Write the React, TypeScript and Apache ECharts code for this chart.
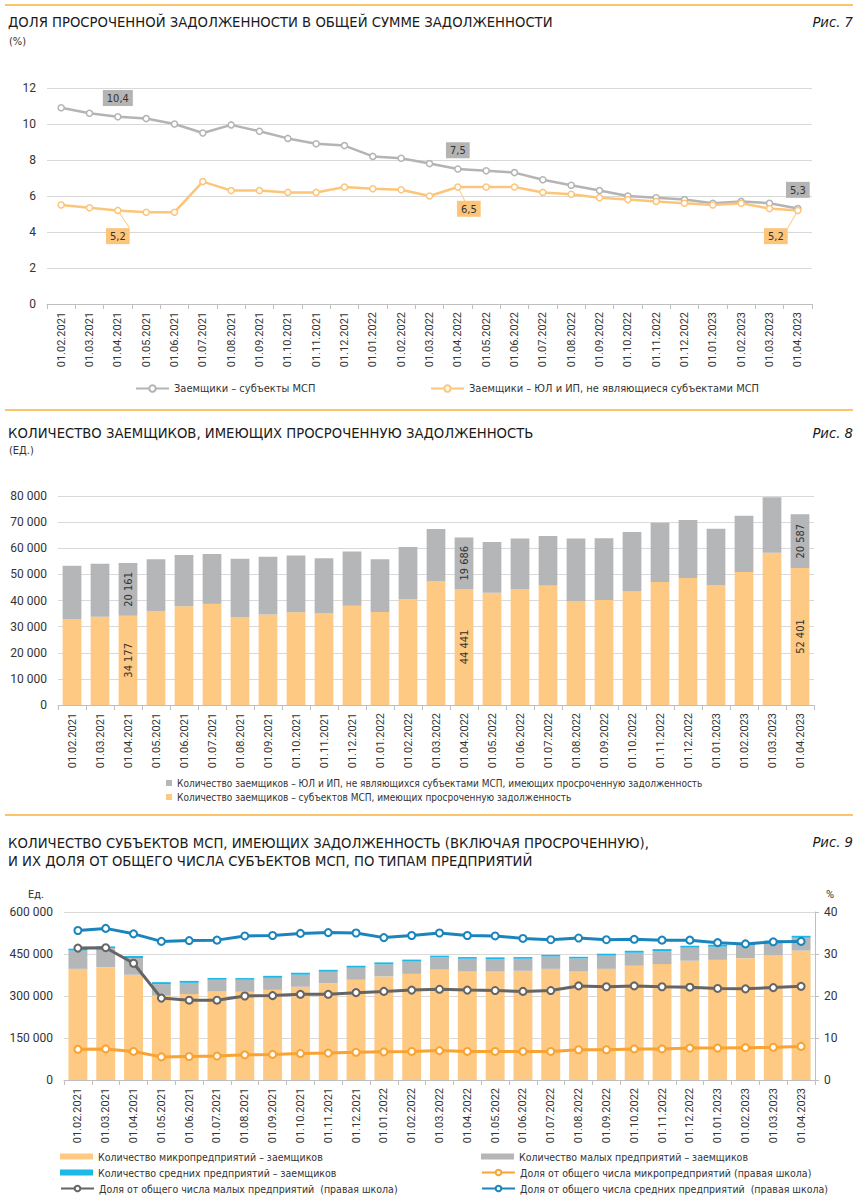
import React, { useEffect, useRef } from "react";
import * as echarts from "echarts";

const dates = [
  "01.02.2021", "01.03.2021", "01.04.2021", "01.05.2021", "01.06.2021", "01.07.2021", "01.08.2021",
  "01.09.2021", "01.10.2021", "01.11.2021", "01.12.2021", "01.01.2022", "01.02.2022", "01.03.2022",
  "01.04.2022", "01.05.2022", "01.06.2022", "01.07.2022", "01.08.2022", "01.09.2022", "01.10.2022",
  "01.11.2022", "01.12.2022", "01.01.2023", "01.02.2023", "01.03.2023", "01.04.2023",
];

// Рис. 7 (%)
const mspShare = [10.9, 10.6, 10.4, 10.3, 10.0, 9.5, 9.95, 9.6, 9.2, 8.9, 8.8, 8.2, 8.1, 7.8, 7.5, 7.4, 7.3, 6.9, 6.6, 6.3, 6.0, 5.9, 5.8, 5.6, 5.7, 5.6, 5.3];
const nonMspShare = [5.5, 5.35, 5.2, 5.1, 5.1, 6.8, 6.3, 6.3, 6.2, 6.2, 6.5, 6.4, 6.35, 6.0, 6.5, 6.5, 6.5, 6.2, 6.1, 5.9, 5.8, 5.7, 5.6, 5.5, 5.6, 5.3, 5.2];
const labelIdx7 = [2, 14, 26];

// Рис. 8 (ед.)
const mspOverdue = [32900, 33800, 34177, 36000, 37800, 38700, 33700, 34600, 35500, 35000, 38000, 35600, 40500, 47500, 44441, 43000, 44400, 45700, 39600, 40200, 43400, 47100, 48600, 45900, 50900, 58300, 52401];
const nonMspOverdue = [20400, 20300, 20161, 19800, 19600, 19100, 22300, 22100, 21700, 21200, 20800, 20200, 20000, 19900, 19686, 19400, 19300, 19000, 24100, 23600, 22800, 22700, 22200, 21600, 21500, 21200, 20587];
const labelIdx8 = [2, 14, 26];

// Рис. 9
const microCount = [397000, 403000, 376000, 301000, 307000, 316000, 315000, 322000, 333000, 345000, 358000, 370000, 379000, 394000, 388000, 388000, 390000, 397000, 388000, 397000, 408000, 414000, 426000, 429000, 435000, 446000, 462000];
const smallCount = [65000, 68000, 59500, 41500, 40000, 42000, 43000, 43000, 43000, 41500, 43000, 43000, 44000, 44000, 45000, 44000, 43000, 44000, 46000, 47000, 46500, 46500, 46500, 47000, 47000, 45000, 46000];
const mediumCount = [7000, 6000, 7000, 7000, 7000, 6000, 6000, 7000, 7000, 7000, 7000, 7000, 7000, 6000, 6000, 6000, 6000, 6000, 6000, 7000, 7000, 7000, 7000, 7000, 7000, 7000, 7000];
const microShare = [7.3, 7.4, 6.8, 5.5, 5.6, 5.7, 6.0, 6.1, 6.3, 6.4, 6.6, 6.7, 6.8, 7.0, 6.8, 6.8, 6.8, 6.8, 7.2, 7.2, 7.4, 7.4, 7.6, 7.6, 7.7, 7.8, 8.0];
const smallShare = [31.4, 31.5, 27.8, 19.5, 19.0, 19.0, 20.0, 20.1, 20.4, 20.4, 20.8, 21.1, 21.4, 21.6, 21.4, 21.3, 21.1, 21.3, 22.4, 22.2, 22.4, 22.2, 22.1, 21.8, 21.7, 22.0, 22.3];
const mediumShare = [35.6, 36.1, 34.8, 33.0, 33.2, 33.3, 34.3, 34.4, 34.9, 35.1, 35.0, 33.9, 34.4, 35.0, 34.4, 34.3, 33.7, 33.4, 33.8, 33.4, 33.5, 33.3, 33.3, 32.7, 32.4, 32.9, 33.0];

const NARROW = "'Liberation Sans Narrow', 'DejaVu Sans Condensed', 'Roboto Condensed', 'Liberation Sans', sans-serif";
const SANS = "Roboto, 'Liberation Sans', sans-serif";
const TXT = "#333333";
const GRID = "#d9d9d9";
const AXIS = "#bfbfbf";
const ACCENT = "#f9c46a";

const C1_GRAY = "#b4b4b4";
const C1_ORANGE = "#fdc57a";
const BAR_ORANGE = "#fec982";
const BAR_GRAY = "#b5b6b8";
const BAR_CYAN = "#1cb8e8";
const L_ORANGE = "#f8a332";
const L_DGRAY = "#656565";
const L_BLUE = "#1a85bd";

const N1 = "Заемщики – субъекты МСП";
const N2 = "Заемщики – ЮЛ и ИП, не являющиеся субъектами МСП";
const N3 = "Количество заемщиков – ЮЛ и ИП, не являющихся субъектами МСП, имеющих просроченную задолженность";
const N4 = "Количество заемщиков – субъектов МСП, имеющих просроченную задолженность";
const N5 = "Количество микропредприятий – заемщиков";
const N6 = "Количество малых предприятий – заемщиков";
const N7 = "Количество средних предприятий – заемщиков";
const N8 = "Доля от общего числа микропредприятий (правая школа)";
const N9 = "Доля от общего числа малых предприятий  (правая школа)";
const N10 = "Доля от общего числа средних предприятий  (правая школа)";

const fmtNum = (v: number) => String(Math.round(v)).replace(/\B(?=(\d{3})+(?!\d))/g, " ");
const fmtDec = (v: number) => String(v).replace(".", ",");

function catAxis(gridIndex: number) {
  return {
    type: "category",
    gridIndex,
    data: dates,
    boundaryGap: true,
    axisLine: { lineStyle: { color: AXIS, width: 1 } },
    axisTick: { show: true, length: 5, lineStyle: { color: AXIS } },
    axisLabel: { rotate: 90, fontSize: 11, color: TXT, fontFamily: SANS, margin: 8, interval: 0 },
  };
}

export default function App() {
  const ref = useRef<HTMLDivElement>(null);
  useEffect(() => {
    if (!ref.current) return;
    const chart = echarts.init(ref.current, null, { renderer: "svg" });

    const titleStyle = { fontFamily: NARROW, fontSize: 14.7, fontWeight: "normal", color: "#1a1a1a" };
    const figStyle = { fontFamily: NARROW, fontSize: 14.7, fontWeight: "normal", fontStyle: "italic", color: "#1a1a1a" };
    const subStyle = { fontFamily: NARROW, fontSize: 11, fontWeight: "normal", color: TXT };
    const legendText = { fontFamily: NARROW, fontSize: 10.5, color: TXT };

    const line7Label = (bg: string, pos: string, offsets: number[][]) =>
      (arr: number[]) =>
        arr.map((v, i) => {
          const k = labelIdx7.indexOf(i);
          if (k < 0) return v;
          return {
            value: v,
            label: {
              show: true,
              position: pos,
              distance: pos === "top" ? 7 : 10,
              offset: offsets[k],
              formatter: (p: any) => fmtDec(p.value),
              backgroundColor: bg,
              padding: [3, 4, 2, 4],
              fontSize: 11,
              fontFamily: NARROW,
              color: TXT,
            },
          };
        });

    const bar8 = (arr: number[]) =>
      arr.map((v, i) =>
        labelIdx8.includes(i)
          ? {
              value: v,
              label: {
                show: true,
                position: "inside",
                rotate: 90,
                formatter: (p: any) => fmtNum(p.value),
                fontSize: 11,
                fontFamily: NARROW,
                color: TXT,
              },
            }
          : v
      );

    const T = (text: string, pos: any, textStyle: any) => ({ text, padding: 0, ...pos, textStyle });
    const L = (data: any[], left: number, top: number, extra: any = {}) => ({
      data, left, top, padding: 0, itemWidth: 33, itemHeight: 6, textStyle: legendText, ...extra,
    });

    const option: any = {
      animation: false,
      backgroundColor: "#ffffff",
      graphic: [
        { type: "line", shape: { x1: 5, y1: 5, x2: 853, y2: 5 }, style: { stroke: ACCENT, lineWidth: 2 } },
        { type: "line", shape: { x1: 5, y1: 410, x2: 853, y2: 410 }, style: { stroke: ACCENT, lineWidth: 2 } },
        { type: "line", shape: { x1: 5, y1: 815, x2: 853, y2: 815 }, style: { stroke: ACCENT, lineWidth: 2 } },
      ],
      title: [
        T("ДОЛЯ ПРОСРОЧЕННОЙ ЗАДОЛЖЕННОСТИ В ОБЩЕЙ СУММЕ ЗАДОЛЖЕННОСТИ", { left: 8, top: 14 }, titleStyle),
        T("(%)", { left: 9, top: 36 }, subStyle),
        T("Рис. 7", { right: 6, top: 14 }, figStyle),
        T("КОЛИЧЕСТВО ЗАЕМЩИКОВ, ИМЕЮЩИХ ПРОСРОЧЕННУЮ ЗАДОЛЖЕННОСТЬ", { left: 8, top: 425 }, titleStyle),
        T("(ЕД.)", { left: 9, top: 445 }, subStyle),
        T("Рис. 8", { right: 6, top: 425 }, figStyle),
        T(
          "КОЛИЧЕСТВО СУБЪЕКТОВ МСП, ИМЕЮЩИХ ЗАДОЛЖЕННОСТЬ (ВКЛЮЧАЯ ПРОСРОЧЕННУЮ),\nИ ИХ ДОЛЯ ОТ ОБЩЕГО ЧИСЛА СУБЪЕКТОВ МСП, ПО ТИПАМ ПРЕДПРИЯТИЙ",
          { left: 8, top: 833 },
          { ...titleStyle, lineHeight: 18 }
        ),
        T("Рис. 9", { right: 6, top: 834 }, figStyle),
        T("Ед.", { left: 28, top: 889 }, { ...subStyle, fontFamily: SANS }),
        T("%", { left: 826, top: 889 }, { ...subStyle, fontFamily: SANS }),
      ],
      legend: [
        L([N1], 135, 383, { itemHeight: 8, textStyle: { ...legendText, fontSize: 11 } }),
        L([N2], 430, 383, { itemHeight: 8, textStyle: { ...legendText, fontSize: 11 } }),
        L([{ name: N3, icon: "rect" }, { name: N4, icon: "rect" }], 166, 778, {
          orient: "vertical", itemWidth: 6, itemHeight: 6, itemGap: 4, textStyle: { ...legendText, fontSize: 10 },
        }),
        L([{ name: N5, icon: "rect" }], 60, 1151),
        L([{ name: N7, icon: "rect" }], 60, 1167),
        L([N9], 60, 1183, { itemHeight: 7 }),
        L([{ name: N6, icon: "rect" }], 481, 1151),
        L([N8], 481, 1167, { itemHeight: 7 }),
        L([N10], 481, 1183, { itemHeight: 7 }),
      ],
      grid: [
        { left: 47, right: 47, top: 88, height: 216 },
        { left: 58, right: 45, top: 496, height: 209 },
        { left: 64, right: 44, top: 912, height: 168 },
      ],
      xAxis: [catAxis(0), catAxis(1), catAxis(2)],
      yAxis: [
        {
          type: "value", gridIndex: 0, min: 0, max: 12, interval: 2,
          axisLine: { show: false }, axisTick: { show: false },
          splitLine: { lineStyle: { color: GRID, width: 1 } },
          axisLabel: { fontSize: 12, color: TXT, fontFamily: SANS, margin: 11 },
        },
        {
          type: "value", gridIndex: 1, min: 0, max: 80000, interval: 10000,
          axisLine: { show: false }, axisTick: { show: false },
          splitLine: { lineStyle: { color: GRID, width: 1 } },
          axisLabel: { fontSize: 12, color: TXT, fontFamily: SANS, margin: 11, formatter: (v: number) => fmtNum(v) },
        },
        {
          type: "value", gridIndex: 2, min: 0, max: 600000, interval: 150000,
          axisLine: { show: false }, axisTick: { show: false },
          splitLine: { lineStyle: { color: GRID, width: 1 } },
          axisLabel: { fontSize: 12, color: TXT, fontFamily: SANS, margin: 11, formatter: (v: number) => fmtNum(v) },
        },
        {
          type: "value", gridIndex: 2, position: "right", min: 0, max: 40, interval: 10,
          axisLine: { show: true, lineStyle: { color: AXIS } }, axisTick: { show: true, length: 4, lineStyle: { color: AXIS } },
          splitLine: { show: false },
          axisLabel: { fontSize: 12, color: TXT, fontFamily: SANS, margin: 9 },
        },
      ],
      series: [
        // Chart 7
        {
          name: N1, type: "line", xAxisIndex: 0, yAxisIndex: 0,
          data: line7Label(C1_GRAY, "top", [[0, 0], [0, 0], [0, 0]])(mspShare),
          symbol: "circle", symbolSize: 6,
          itemStyle: { color: "#ffffff", borderColor: C1_GRAY, borderWidth: 1.5 },
          lineStyle: { color: C1_GRAY, width: 2.5 },
          labelLine: { show: true, lineStyle: { color: C1_GRAY, width: 1 } },
          z: 3,
        },
        {
          name: N2, type: "line", xAxisIndex: 0, yAxisIndex: 0,
          data: line7Label(C1_ORANGE, "bottom", [[0, 4], [11, 0], [-22, 4]])(nonMspShare),
          symbol: "circle", symbolSize: 6,
          itemStyle: { color: "#ffffff", borderColor: C1_ORANGE, borderWidth: 1.5 },
          lineStyle: { color: C1_ORANGE, width: 2.5 },
          labelLine: { show: true, lineStyle: { color: C1_ORANGE, width: 1 } },
          z: 4,
        },
        // Chart 8
        {
          name: N4, type: "bar", stack: "c8", xAxisIndex: 1, yAxisIndex: 1,
          data: bar8(mspOverdue), itemStyle: { color: BAR_ORANGE }, barCategoryGap: "33%",
        },
        {
          name: N3, type: "bar", stack: "c8", xAxisIndex: 1, yAxisIndex: 1,
          data: bar8(nonMspOverdue), itemStyle: { color: BAR_GRAY }, barCategoryGap: "33%",
        },
        // Chart 9
        {
          name: N5, type: "bar", stack: "c9", xAxisIndex: 2, yAxisIndex: 2,
          data: microCount, itemStyle: { color: BAR_ORANGE }, barCategoryGap: "32%",
        },
        {
          name: N6, type: "bar", stack: "c9", xAxisIndex: 2, yAxisIndex: 2,
          data: smallCount, itemStyle: { color: BAR_GRAY }, barCategoryGap: "32%",
        },
        {
          name: N7, type: "bar", stack: "c9", xAxisIndex: 2, yAxisIndex: 2,
          data: mediumCount, itemStyle: { color: BAR_CYAN }, barCategoryGap: "32%",
        },
        {
          name: N8, type: "line", xAxisIndex: 2, yAxisIndex: 3, data: microShare,
          symbol: "circle", symbolSize: 7,
          itemStyle: { color: "#ffffff", borderColor: L_ORANGE, borderWidth: 2 },
          lineStyle: { color: L_ORANGE, width: 3 }, z: 5,
        },
        {
          name: N9, type: "line", xAxisIndex: 2, yAxisIndex: 3, data: smallShare,
          symbol: "circle", symbolSize: 7,
          itemStyle: { color: "#ffffff", borderColor: L_DGRAY, borderWidth: 2 },
          lineStyle: { color: L_DGRAY, width: 3 }, z: 5,
        },
        {
          name: N10, type: "line", xAxisIndex: 2, yAxisIndex: 3, data: mediumShare,
          symbol: "circle", symbolSize: 7,
          itemStyle: { color: "#ffffff", borderColor: L_BLUE, borderWidth: 2 },
          lineStyle: { color: L_BLUE, width: 3 }, z: 5,
        },
      ],
    };

    chart.setOption(option);
    return () => chart.dispose();
  }, []);

  return (
    <div
      ref={ref}
      style={{ position: "absolute", left: 0, top: 0, width: 859, height: 1200, background: "#fff" }}
    />
  );
}
